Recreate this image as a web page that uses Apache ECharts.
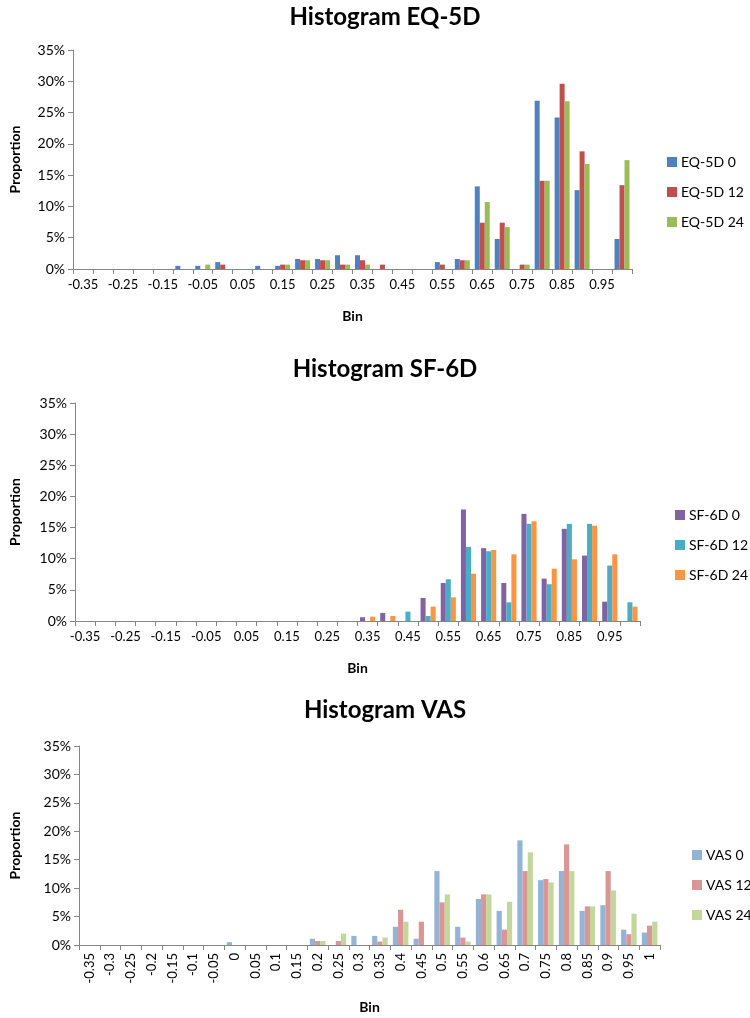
<!DOCTYPE html>
<html>
<head>
<meta charset="utf-8">
<script src="https://cdn.jsdelivr.net/npm/echarts@6/dist/echarts.min.js"></script>
<style>html,body{margin:0;padding:0;background:#fff}#c{width:750px;height:1018px}</style>
</head>
<body>
<div id="c"></div>
<script>
// Bins (category labels)
var bins = ['-0.35','-0.3','-0.25','-0.2','-0.15','-0.1','-0.05','0','0.05','0.1','0.15','0.2','0.25','0.3','0.35','0.4','0.45','0.5','0.55','0.6','0.65','0.7','0.75','0.8','0.85','0.9','0.95','1'];
var yTicks = [0,5,10,15,20,25,30,35];

// EQ-5D proportions (%)
var eq0  = [0,0,0,0,0,0.5,0.5,1.1,0,0.5,0.5,1.6,1.6,2.2,2.2,0,0,0,1.1,1.6,13.2,4.8,0,26.9,24.2,12.6,0,4.8];
var eq12 = [0,0,0,0,0,0,0,0.7,0,0,0.7,1.4,1.4,0.7,1.4,0.7,0,0,0.7,1.4,7.4,7.4,0.7,14.1,29.6,18.8,0,13.4];
var eq24 = [0,0,0,0,0,0,0.7,0,0,0,0.7,1.4,1.4,0.7,0.7,0,0,0,0,1.4,10.7,6.7,0.7,14.1,26.8,16.8,0,17.4];

// SF-6D proportions (%)
var sf0  = [0,0,0,0,0,0,0,0,0,0,0,0,0,0,0.6,1.3,0,3.7,6.1,17.9,11.7,6.1,17.2,6.8,14.8,10.5,3.1,0];
var sf12 = [0,0,0,0,0,0,0,0,0,0,0,0,0,0,0,0,1.5,0.8,6.7,11.9,11.2,3.0,15.6,5.9,15.6,15.6,8.9,3.0];
var sf24 = [0,0,0,0,0,0,0,0,0,0,0,0,0,0,0.7,0.8,0,2.3,3.8,7.6,11.4,10.7,16.0,8.4,9.9,15.3,10.7,2.3];

// VAS proportions (%)
var vas0  = [0,0,0,0,0,0,0,0.5,0,0,0,1.1,0,1.6,1.6,3.2,1.1,13.0,3.2,8.1,6.0,18.4,11.4,13.0,6.0,7.0,2.7,2.2];
var vas12 = [0,0,0,0,0,0,0,0,0,0,0,0.7,0.7,0,0.6,6.2,4.1,7.5,1.3,8.9,2.7,13.0,11.6,17.7,6.8,13.0,1.9,3.4];
var vas24 = [0,0,0,0,0,0,0,0,0,0,0,0.7,2.0,0,1.3,4.1,0,8.9,0.6,8.9,7.6,16.3,11.0,13.0,6.8,9.6,5.5,4.1];

var FONT = 'Lato';
var axisCol = '#868686';

function mkX(idx, rotate, gap) {
  return {
    type: 'category', gridIndex: idx, data: bins,
    name: 'Bin', nameLocation: 'middle', nameGap: gap,
    nameTextStyle: {fontFamily: FONT, fontWeight: 'bold', fontSize: 14, color: '#000'},
    axisLine: {lineStyle: {color: axisCol, width: 1}},
    axisTick: {show: true, interval: 0, length: 5, lineStyle: {color: axisCol}},
    axisLabel: rotate ? {interval: 0, rotate: 90, fontFamily: FONT, fontSize: 13, color: '#000', margin: 8}
                      : {interval: 1, fontFamily: FONT, fontSize: 13, color: '#000', margin: 9},
    splitLine: {show: false}
  };
}
function mkY(idx, gap) {
  return {
    type: 'value', gridIndex: idx, min: yTicks[0], max: yTicks[yTicks.length-1], interval: 5,
    name: 'Proportion', nameLocation: 'middle', nameGap: gap, nameRotate: 90,
    nameTextStyle: {fontFamily: FONT, fontWeight: 'bold', fontSize: 14, color: '#000'},
    axisLine: {show: true, lineStyle: {color: axisCol, width: 1}},
    axisTick: {show: true, length: 5, lineStyle: {color: axisCol}},
    axisLabel: {formatter: '{value}%', fontFamily: FONT, fontSize: 14, color: '#000', margin: 8},
    splitLine: {show: false}
  };
}
function mkS(name, data, idx, color) {
  return {
    type: 'bar', name: name, data: data, xAxisIndex: idx, yAxisIndex: idx,
    barGap: '0%', barCategoryGap: '25%',
    itemStyle: {color: color},
    emphasis: {disabled: true}
  };
}
function mkLegend(names, left, top) {
  return {
    data: names, orient: 'vertical', left: left, top: top,
    itemWidth: 10, itemHeight: 10, itemGap: 16, icon: 'rect',
    textStyle: {fontFamily: FONT, fontSize: 14, color: '#000', padding: [0,0,0,-1]}
  };
}
var titleStyle = {fontFamily: FONT, fontWeight: 'bold', fontSize: 24, color: '#000'};

var chart = echarts.init(document.getElementById('c'), null, {renderer: 'canvas'});
chart.setOption({
  animation: false,
  textStyle: {fontFamily: FONT},
  title: [
    {text: 'Histogram EQ-5D', left: 380, top: 0, textAlign: 'center', textStyle: titleStyle},
    {text: 'Histogram SF-6D', left: 380, top: 352, textAlign: 'center', textStyle: titleStyle},
    {text: 'Histogram VAS', left: 380, top: 693, textAlign: 'center', textStyle: titleStyle}
  ],
  legend: [
    mkLegend(['EQ-5D 0','EQ-5D 12','EQ-5D 24'], 662, 150),
    mkLegend(['SF-6D 0','SF-6D 12','SF-6D 24'], 670, 503),
    mkLegend(['VAS 0','VAS 12','VAS 24'], 687, 843)
  ],
  grid: [
    {left: 69, width: 563, top: 50, height: 219},
    {left: 71, width: 569, top: 403, height: 218},
    {left: 77, width: 583, top: 746, height: 199}
  ],
  xAxis: [mkX(0, false, 40), mkX(1, false, 40), mkX(2, true, 55)],
  yAxis: [mkY(0, 51), mkY(1, 53), mkY(2, 57)],
  series: [
    mkS('EQ-5D 0', eq0, 0, '#4F81BD'),
    mkS('EQ-5D 12', eq12, 0, '#C0504D'),
    mkS('EQ-5D 24', eq24, 0, '#9BBB59'),
    mkS('SF-6D 0', sf0, 1, '#8064A2'),
    mkS('SF-6D 12', sf12, 1, '#4BACC6'),
    mkS('SF-6D 24', sf24, 1, '#F79646'),
    mkS('VAS 0', vas0, 2, '#95B3D7'),
    mkS('VAS 12', vas12, 2, '#D99694'),
    mkS('VAS 24', vas24, 2, '#C3D69B')
  ]
});
</script>
</body>
</html>
